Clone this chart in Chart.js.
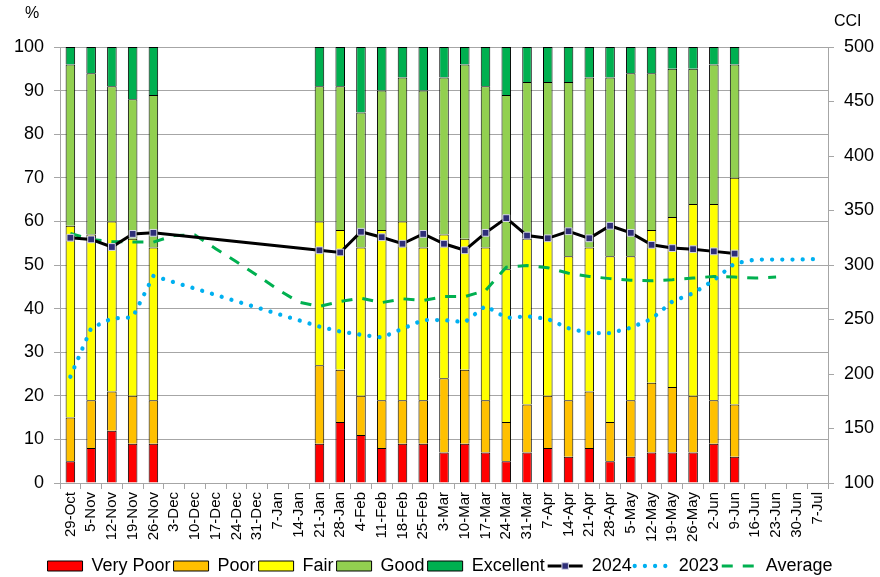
<!DOCTYPE html>
<html><head><meta charset="utf-8">
<script src="https://cdn.jsdelivr.net/npm/chart.js@4/dist/chart.umd.min.js"></script>
<style>html,body{margin:0;padding:0;background:#fff}#wrap{width:880px;height:577px}</style>
</head><body><div id="wrap"><canvas id="c" width="880" height="577"></canvas></div>
<script>
const N = null;
const categories = ['29-Oct','5-Nov','12-Nov','19-Nov','26-Nov','3-Dec','10-Dec','17-Dec','24-Dec','31-Dec','7-Jan','14-Jan','21-Jan','28-Jan','4-Feb','11-Feb','18-Feb','25-Feb','3-Mar','10-Mar','17-Mar','24-Mar','31-Mar','7-Apr','14-Apr','21-Apr','28-Apr','5-May','12-May','19-May','26-May','2-Jun','9-Jun','16-Jun','23-Jun','30-Jun','7-Jul'];

const veryPoor  = [5,8,12,9,9, N,N,N,N,N,N,N, 9,14,11,8,9,9,7,9,7,5,7,8,6,8,5,6,7,7,7,9,6, N,N,N,N];
const poor      = [10,11,9,11,10, N,N,N,N,N,N,N, 18,12,9,11,10,10,17,17,12,9,11,12,13,13,9,13,16,15,13,10,12, N,N,N,N];
const fair      = [44,38,39,36,35, N,N,N,N,N,N,N, 33,32,34,39,41,35,33,30,35,35,38,36,33,33,38,33,35,39,44,45,52, N,N,N,N];
const good      = [37,37,31,32,35, N,N,N,N,N,N,N, 31,33,31,32,33,36,36,40,37,40,36,36,40,39,41,42,36,34,31,32,26, N,N,N,N];
const excellent = [4,6,9,12,11, N,N,N,N,N,N,N, 9,9,15,10,7,10,7,4,9,11,8,8,8,7,7,6,6,5,5,4,4, N,N,N,N];

const cci2024 = [325,323.5,316.5,328.5,329.5, N,N,N,N,N,N,N, 313.5,311.5,330.5,325.5,319.5,328.5,319.5,313.5,329.5,343,327,324.5,331,324.5,336,329.5,318.5,315.5,314.5,312.5,310.5, N,N,N,N];
const cci2023 = [197.5,242,251,252,290, N,N,N,N,N,N,N, 243.5,239,236,233.5,241.5,249.5,249.5,247.5,262.5,251.5,253,250.5,242,237.5,237.5,242.5,250.5,266.5,274,286,301.5, 305,305,305,305.5];
const cciAverage = [329,323.5,321.5,321,321,327,327.5,315,303,290.5,277.5,266, 262,266.5,269.5,265.5,269,267.5,271,271,276.5,298,299.5,297.5,292.5,289.5,287.5,286,285.5,286.5,288,289.5,289, 288,289,N,N];

const leftTicks = {min: 0, max: 100, step: 10};
const rightTicks = {min: 100, max: 500, step: 50};

const FONT = "'Liberation Sans', Arial, sans-serif";
Chart.defaults.font.family = FONT;
Chart.defaults.color = '#000';
const GRID = '#a6a6a6';
const LEG_FS = 18, LEG_PAD = 3, LEG_BOX = 35;

const extras = {
  id: 'extras',
  afterLayout(chart) {
    const lg = chart.legend;
    if (lg) {
      const target = 566 - LEG_PAD - LEG_FS / 2;
      const dy = target - lg.top;
      lg.top += dy; lg.bottom += dy;
    }
  },
  afterDraw(chart) {
    const ctx = chart.ctx;
    ctx.save();
    ctx.fillStyle = '#000';
    ctx.font = '16px ' + FONT;
    ctx.textBaseline = 'alphabetic';
    ctx.textAlign = 'left';
    ctx.fillText('%', 25, 18);
    ctx.fillText('CCI', 834, 26);
    const lg = chart.legend;
    lg.legendItems.forEach((item, i) => {
      const ds = chart.data.datasets[item.datasetIndex];
      if (ds.type !== 'line') return;
      const hb = lg.legendHitBoxes[i];
      const x0 = hb.left, x1 = hb.left + LEG_BOX;
      const y = hb.top + LEG_FS / 2;
      ctx.beginPath();
      ctx.strokeStyle = ds.borderColor;
      ctx.lineWidth = ds.borderWidth;
      ctx.setLineDash(ds.borderDash || []);
      ctx.lineCap = ds.borderCapStyle || 'butt';
      ctx.moveTo(x0, y); ctx.lineTo(x1, y); ctx.stroke();
      ctx.setLineDash([]);
      if (ds.pointRadius > 0) {
        const cx = (x0 + x1) / 2, s = 6.5;
        ctx.fillStyle = ds.pointBackgroundColor;
        ctx.fillRect(cx - s / 2, y - s / 2, s, s);
        ctx.lineWidth = 1; ctx.strokeStyle = ds.pointBorderColor;
        ctx.strokeRect(cx - s / 2, y - s / 2, s, s);
      }
    });
    ctx.restore();
  }
};

function barDs(label, data, color) {
  return {type: 'bar', label, data, backgroundColor: color, borderColor: '#000', borderWidth: 1,
    yAxisID: 'y', stack: 's', order: 10, barPercentage: 0.46, categoryPercentage: 1};
}

new Chart(document.getElementById('c'), {
  type: 'bar',
  data: {
    labels: categories,
    datasets: [
      barDs('Very Poor', veryPoor, '#FF0000'),
      barDs('Poor', poor, '#FFC000'),
      barDs('Fair', fair, '#FFFF00'),
      barDs('Good', good, '#92D050'),
      barDs('Excellent', excellent, '#00B050'),
      {type: 'line', label: '2024', data: cci2024, yAxisID: 'y2', borderColor: '#000', borderWidth: 3,
        pointStyle: 'rect', pointRadius: 4.8, pointBackgroundColor: '#2e2e78', pointBorderColor: '#d8d8e8',
        pointBorderWidth: 1, spanGaps: true, tension: 0, fill: false, order: 1},
      {type: 'line', label: '2023', data: cci2023, yAxisID: 'y2', borderColor: '#00B0F0', borderWidth: 4.3,
        borderDash: [0.001, 10.2], borderCapStyle: 'round', pointRadius: 0, spanGaps: true, tension: 0, fill: false, order: 3},
      {type: 'line', label: 'Average', data: cciAverage, yAxisID: 'y2', borderColor: '#00B050', borderWidth: 3,
        borderDash: [11, 10], pointRadius: 0, spanGaps: true, tension: 0, fill: false, order: 2}
    ]
  },
  options: {
    responsive: false, animation: false, devicePixelRatio: 1,
    events: [],
    layout: {padding: {top: 47, left: 0, right: 0, bottom: 0}},
    plugins: {
      tooltip: {enabled: false},
      legend: {
        position: 'bottom',
        labels: {
          font: {size: LEG_FS}, boxWidth: LEG_BOX, boxHeight: 10, padding: LEG_PAD, color: '#000',
          sort: (a, b) => a.datasetIndex - b.datasetIndex,
          generateLabels(chart) {
            const items = Chart.defaults.plugins.legend.labels.generateLabels(chart);
            items.forEach(it => {
              const ds = chart.data.datasets[it.datasetIndex];
              if (ds.type === 'line') { it.fillStyle = 'rgba(0,0,0,0)'; it.strokeStyle = 'rgba(0,0,0,0)'; it.lineWidth = 0; it.lineDash = []; }
              else { it.lineWidth = 1; it.strokeStyle = '#000'; }
            });
            return items;
          }
        }
      }
    },
    scales: {
      x: {
        stacked: true, offset: true,
        grid: {offset: true, drawOnChartArea: false, tickLength: 6, color: GRID},
        border: {color: GRID},
        ticks: {autoSkip: false, maxRotation: 90, minRotation: 90, font: {size: 15}, padding: 3, color: '#000'},
        afterFit(s) { s.height = 63; }
      },
      y: {
        position: 'left', stacked: true, min: leftTicks.min, max: leftTicks.max,
        grid: {color: GRID, tickLength: 6},
        border: {color: GRID},
        ticks: {stepSize: leftTicks.step, font: {size: 18}, padding: 10, color: '#000'},
        afterFit(s) { s.width = 60; }
      },
      y2: {
        position: 'right', stacked: false, min: rightTicks.min, max: rightTicks.max,
        grid: {drawOnChartArea: false, color: GRID, tickLength: 6},
        border: {color: GRID},
        ticks: {stepSize: rightTicks.step, font: {size: 18}, padding: 10, color: '#000'},
        afterFit(s) { s.width = 52; }
      }
    }
  },
  plugins: [extras]
});
</script>
</body></html>
